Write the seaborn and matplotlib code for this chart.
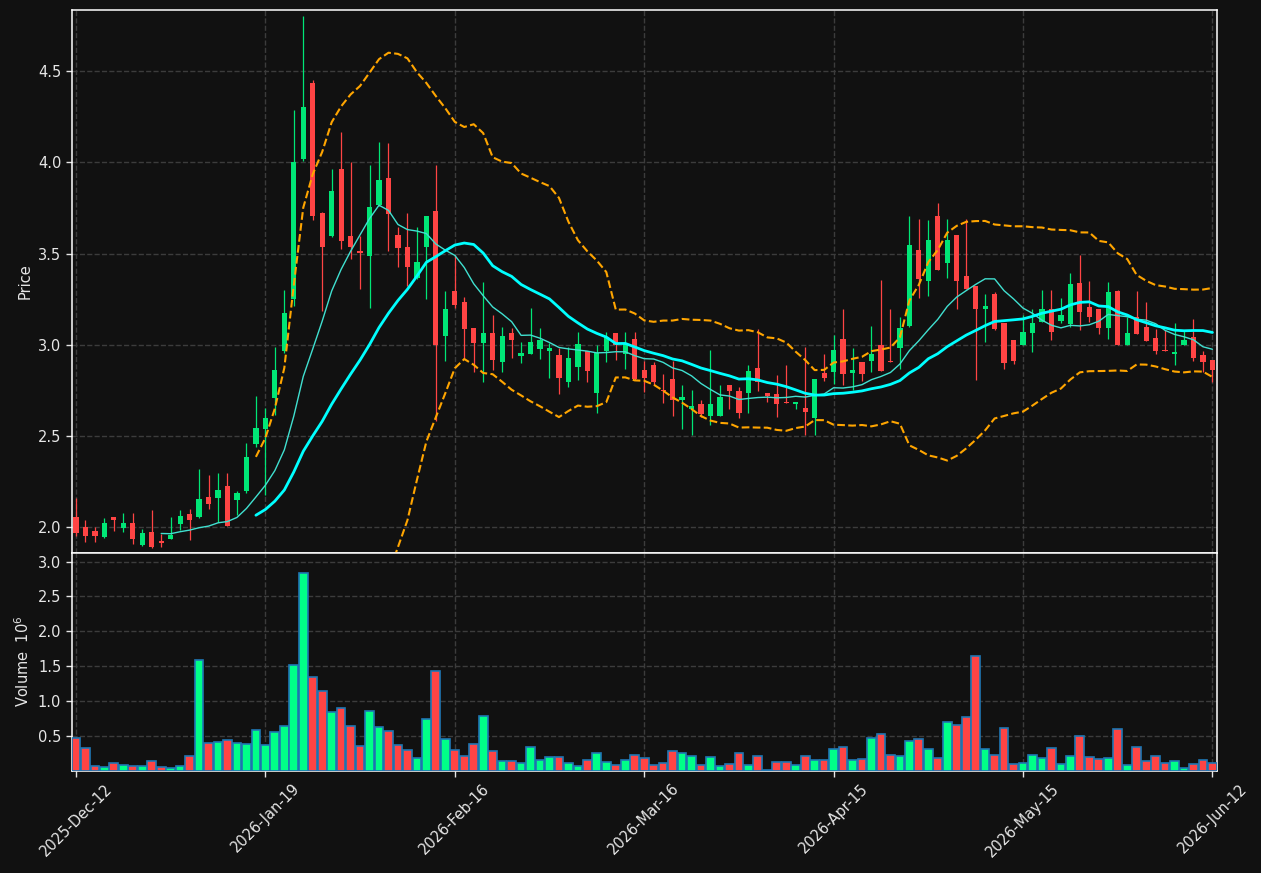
import matplotlib.pyplot as plt
import seaborn as sns
import pandas as pd
import numpy as np

# OHLC, one row per trading day
opens = [2.056, 2.00, 1.98, 1.947, 2.055, 1.996, 2.022, 1.903, 1.973, 1.923,
         1.936, 2.016, 2.071, 2.056, 2.164, 2.16, 2.225, 2.15, 2.20, 2.457,
         2.539, 2.71, 2.964, 3.253, 4.019, 4.434, 3.722, 3.598, 3.964, 3.596,
         3.516, 3.487, 3.764, 3.914, 3.602, 3.535, 3.364, 3.535, 3.734, 3.048,
         3.294, 3.234, 3.091, 3.01, 3.064, 2.905, 3.064, 2.939, 2.95, 2.976,
         2.967, 2.943, 2.797, 2.879, 2.965, 2.736, 2.965, 3.064, 2.95, 3.031,
         2.861, 2.89, 2.752, 2.811, 2.698, 2.651, 2.674, 2.61, 2.61, 2.782,
         2.749, 2.736, 2.873, 2.735, 2.729, 2.687, 2.676, 2.652, 2.60, 2.844,
         2.851, 3.031, 2.846, 2.908, 2.912, 2.998, 2.91, 2.983, 3.104, 3.519,
         3.35, 3.705, 3.449, 3.601, 3.376, 3.321, 3.199, 3.281, 3.118, 3.024,
         3.0, 3.065, 3.126, 3.199, 3.129, 3.113, 3.338, 3.205, 3.194, 3.093,
         3.294, 3.0, 3.15, 3.096, 3.036, 2.972, 2.95, 3.0, 3.045, 2.947,
         2.916]
highs = [2.159, 2.04, 2.00, 2.053, 2.055, 2.08, 2.08, 1.99, 2.093, 1.962,
         2.056, 2.093, 2.10, 2.32, 2.285, 2.30, 2.30, 2.20, 2.46, 2.72,
         2.654, 2.99, 3.30, 4.288, 4.80, 4.453, 3.73, 3.962, 4.164, 4.002,
         3.596, 3.983, 4.109, 4.105, 3.644, 3.72, 3.644, 3.705, 3.983, 3.295,
         3.49, 3.26, 3.095, 3.342, 3.162, 3.10, 3.09, 3.013, 3.20, 3.09,
         3.01, 2.983, 2.99, 3.071, 2.965, 3.0, 3.071, 3.064, 3.071, 3.071,
         2.91, 2.905, 2.84, 2.91, 2.78, 2.75, 2.70, 2.97, 2.78, 2.782,
         2.77, 2.892, 3.085, 2.735, 2.833, 2.892, 2.687, 2.988, 2.811, 2.952,
         3.053, 3.195, 2.985, 2.908, 3.102, 3.354, 3.199, 3.15, 3.705, 3.687,
         3.683, 3.78, 3.692, 3.601, 3.692, 3.321, 3.276, 3.29, 3.118, 3.024,
         3.162, 3.199, 3.303, 3.303, 3.254, 3.396, 3.495, 3.352, 3.194, 3.343,
         3.303, 3.15, 3.294, 3.234, 3.089, 3.08, 3.117, 3.08, 3.144, 2.967,
         2.916]
lows = [1.955, 1.92, 1.92, 1.94, 1.98, 1.974, 1.907, 1.90, 1.885, 1.892,
        1.936, 1.984, 1.93, 2.05, 2.10, 2.03, 2.007, 2.066, 2.19, 2.44,
        2.177, 2.615, 2.955, 3.215, 4.01, 3.682, 3.186, 3.59, 3.524, 3.473,
        3.307, 3.20, 3.76, 3.514, 3.425, 3.32, 3.36, 3.253, 2.583, 2.91,
        3.20, 2.925, 2.851, 2.797, 2.86, 2.85, 2.93, 2.903, 2.95, 2.92,
        2.82, 2.733, 2.77, 2.806, 2.797, 2.627, 2.905, 2.917, 2.868, 2.81,
        2.74, 2.78, 2.683, 2.612, 2.54, 2.505, 2.605, 2.563, 2.61, 2.65,
        2.60, 2.629, 2.749, 2.687, 2.607, 2.682, 2.65, 2.505, 2.505, 2.804,
        2.788, 2.782, 2.751, 2.80, 2.851, 2.855, 2.905, 2.87, 3.10, 3.259,
        3.266, 3.409, 3.369, 3.199, 3.305, 2.806, 3.013, 3.08, 2.866, 2.897,
        3.0, 2.961, 3.126, 3.029, 3.117, 3.10, 3.084, 3.126, 3.062, 3.034,
        2.998, 3.0, 3.058, 3.02, 2.948, 2.967, 2.892, 3.0, 2.91, 2.851,
        2.797]
closes = [1.969, 1.95, 1.95, 2.022, 2.04, 2.022, 1.936, 1.967, 1.892, 1.914,
          1.956, 2.06, 2.038, 2.153, 2.128, 2.203, 2.007, 2.19, 2.384, 2.543,
          2.60, 2.863, 3.173, 4.002, 4.303, 3.707, 3.535, 3.842, 3.57, 3.535,
          3.501, 3.754, 3.903, 3.718, 3.53, 3.429, 3.453, 3.705, 3.0, 3.196,
          3.217, 3.087, 3.01, 3.064, 2.916, 3.05, 3.025, 2.955, 3.014, 3.025,
          2.981, 2.817, 2.93, 3.003, 2.855, 2.955, 3.043, 3.0, 3.01, 2.813,
          2.817, 2.797, 2.747, 2.698, 2.713, 2.663, 2.623, 2.674, 2.713, 2.749,
          2.627, 2.855, 2.797, 2.72, 2.676, 2.682, 2.687, 2.632, 2.811, 2.819,
          2.97, 2.84, 2.861, 2.84, 2.952, 2.855, 2.905, 3.095, 3.546, 3.361,
          3.573, 3.409, 3.573, 3.35, 3.305, 3.194, 3.213, 3.089, 2.90, 2.912,
          3.069, 3.122, 3.199, 3.071, 3.162, 3.332, 3.181, 3.153, 3.093, 3.288,
          2.998, 3.067, 3.058, 3.021, 2.967, 2.967, 2.959, 3.024, 2.928, 2.906,
          2.861]
# volume in millions
volumes = [0.467, 0.323, 0.065, 0.045, 0.102, 0.079, 0.065, 0.065, 0.131, 0.045,
           0.040, 0.065, 0.208, 1.588, 0.390, 0.409, 0.438, 0.390, 0.375, 0.582,
           0.366, 0.553, 0.634, 1.516, 2.837, 1.338, 1.142, 0.841, 0.898, 0.639,
           0.352, 0.855, 0.625, 0.567, 0.366, 0.295, 0.180, 0.740, 1.430, 0.453,
           0.295, 0.208, 0.381, 0.783, 0.280, 0.131, 0.131, 0.102, 0.338, 0.145,
           0.194, 0.194, 0.102, 0.059, 0.150, 0.251, 0.116, 0.073, 0.150, 0.223,
           0.180, 0.073, 0.102, 0.280, 0.251, 0.208, 0.073, 0.194, 0.059, 0.088,
           0.251, 0.073, 0.208, 0.010, 0.116, 0.116, 0.073, 0.208, 0.150, 0.150,
           0.309, 0.338, 0.150, 0.165, 0.467, 0.524, 0.223, 0.208, 0.424, 0.453,
           0.309, 0.180, 0.697, 0.654, 0.769, 1.645, 0.309, 0.223, 0.611, 0.088,
           0.108, 0.223, 0.180, 0.323, 0.088, 0.208, 0.496, 0.194, 0.165, 0.180,
           0.596, 0.073, 0.338, 0.131, 0.208, 0.102, 0.131, 0.030, 0.088, 0.150,
           0.108]
tick_pos = [0, 20, 40, 60, 80, 100, 120]
tick_labels = ['2025-Dec-12', '2026-Jan-19', '2026-Feb-16', '2026-Mar-16',
               '2026-Apr-15', '2026-May-15', '2026-Jun-12']

df = pd.DataFrame({'open': opens, 'high': highs, 'low': lows,
                   'close': closes, 'volume': volumes})
df['idx'] = np.arange(len(df))
df['up'] = df['close'] >= df['open']
df['ma10'] = df['close'].rolling(10).mean()
df['ma20'] = df['close'].rolling(20).mean()
sd = df['close'].rolling(20).std(ddof=0)
df['bb_up'] = df['ma20'] + 2 * sd
df['bb_lo'] = df['ma20'] - 2 * sd

bg = '#111111'
green = '#00e676'
red = '#ff4444'
txt = '#e6e6e6'

sns.set_theme(style='dark', rc={
    'figure.facecolor': bg, 'axes.facecolor': bg, 'savefig.facecolor': bg,
    'axes.edgecolor': 'white', 'axes.labelcolor': txt,
    'xtick.color': txt, 'ytick.color': txt, 'text.color': txt,
})
plt.rcParams['font.family'] = ['DejaVu Sans']

fig = plt.figure(figsize=(12.61, 8.73), dpi=100)
W, H = 1261, 873
ax1 = fig.add_axes([71.7 / W, (H - 552.5) / H, 1145 / W, 542.5 / H])
ax2 = fig.add_axes([71.7 / W, (H - 770.5) / H, 1145 / W, 218 / H], sharex=ax1)

# candles
cols = np.where(df['up'], green, red)
ax1.vlines(df['idx'], df['low'], df['high'], colors=cols, linewidth=0.9, zorder=2)
body = (df['close'] - df['open']).abs().clip(lower=0.006)
ax1.bar(df['idx'], body, bottom=df[['open', 'close']].min(axis=1),
        width=0.55, color=cols, linewidth=0, zorder=3)

# moving averages and bollinger bands
sns.lineplot(x=df['idx'], y=df['ma10'], ax=ax1, color='turquoise', linewidth=1, zorder=4)
sns.lineplot(x=df['idx'], y=df['ma20'], ax=ax1, color='cyan', linewidth=2, zorder=4)
sns.lineplot(x=df['idx'], y=df['bb_up'], ax=ax1, color='orange', linewidth=1.5,
             linestyle='--', zorder=4)
sns.lineplot(x=df['idx'], y=df['bb_lo'], ax=ax1, color='orange', linewidth=1.5,
             linestyle='--', zorder=4)

# volume
sns.barplot(data=df, x='idx', y='volume', hue='up', palette={True: '#00ff88', False: red},
            saturation=1, dodge=False, native_scale=True, width=0.92,
            edgecolor='#1f77b4', linewidth=1.2, legend=False, ax=ax2, zorder=3)

for ax in (ax1, ax2):
    ax.grid(True, linestyle='--', color='#3c3c3c', linewidth=1.0)
    ax.set_axisbelow(True)
    for s in ax.spines.values():
        s.set_color('white')
        s.set_linewidth(1.1)
    ax.tick_params(axis='both', which='both', length=4, width=1, colors=txt,
                   labelsize=10.5, left=True, bottom=True)

ax1.set_xlim(-0.45, 120.45)
ax1.set_ylim(1.862, 4.835)
ax1.set_yticks([2.0, 2.5, 3.0, 3.5, 4.0, 4.5])
ax1.set_ylabel('Price', fontsize=10.5)
ax1.set_xlabel('')
ax1.tick_params(axis='x', labelbottom=False, length=0)

ax2.set_ylim(0, 3.13)
ax2.set_yticks([0.5, 1.0, 1.5, 2.0, 2.5, 3.0])
ax2.set_ylabel('Volume  $10^{6}$', fontsize=10.5)
ax2.set_xlabel('')
ax2.set_xticks(tick_pos)
ax2.set_xticklabels(tick_labels, rotation=45, ha='center', fontsize=10.5)

fig.savefig('out.png', dpi=100, facecolor=bg)
